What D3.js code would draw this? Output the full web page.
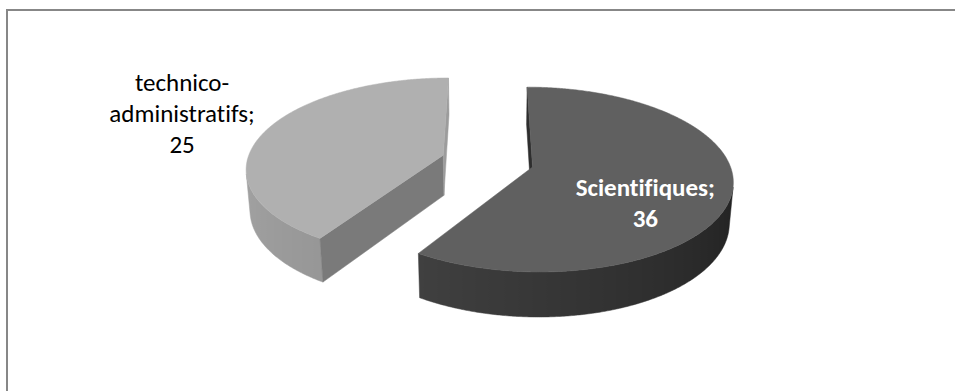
<!DOCTYPE html>
<html>
<head>
<meta charset="utf-8">
<script src="https://cdn.jsdelivr.net/npm/d3@7"></script>
<style>
  html, body { margin: 0; padding: 0; background: #fff; }
  svg { display: block; }
  text { font-variant-ligatures: none; font-feature-settings: "liga" 0, "clig" 0; }
</style>
</head>
<body>
<svg id="chart" width="955" height="391"></svg>
<script>
// Staff split by category
const categories = ["Scientifiques", "technico-administratifs"];
const values = [36, 25];

// Face colours per slice
const topColors = ["#606060", "#b0b0b0"];
const startFaceColors = ["#2e2e2e", "#7a7a7a"];
const endFaceColors = ["#2e2e2e", "#9c9c9c"];
const sideDark = ["#1e1e1e", "#797979"];   // curved wall at 3 o'clock
const sideLight = ["#505050", "#a5a5a5"];  // curved wall at 9 o'clock
const labelColors = ["#ffffff", "#000000"];
const labelWeights = ["bold", "normal"];

const W = 955, H = 391;
const svg = d3.select("#chart");
const defs = svg.append("defs");

// Chart frame
svg.append("rect")
  .attr("x", 7).attr("y", 10)
  .attr("width", W + 20).attr("height", H + 20)
  .attr("fill", "#fff")
  .attr("stroke", "#878787")
  .attr("stroke-width", 2);

// 3D view: pie of unit radius lying in the XZ plane, camera tilted down
const phi = 27 * Math.PI / 180;
const dist = 6.6, focal = 1295;
const cx0 = 487.5, cy0 = 161;
const thickness = 0.235;
const explode = 0.237;
const cam = [0, dist * Math.sin(phi), dist * Math.cos(phi)];

function project(X, Y, Z) {
  const yc = Y * Math.cos(phi) - Z * Math.sin(phi);
  const depth = dist - Y * Math.sin(phi) - Z * Math.cos(phi);
  return [cx0 + focal * X / depth, cy0 - focal * yc / depth];
}
// angle measured clockwise from 12 o'clock (the far side)
const dir = t => [Math.sin(t), -Math.cos(t)];
function rim(c, t, r, Y) {
  const d = dir(t);
  return project(c[0] + r * d[0], Y, c[1] + r * d[1]);
}
// is a vertical face through point p (x,z) with outward normal n turned to the camera?
const seen = (p, n) => n[0] * (cam[0] - p[0]) + n[1] * (cam[2] - p[1]) > 0;

const r = d3.scaleLinear().domain([0, 1]).range([0, 1]);
const pie = d3.pie().sort(null).startAngle(0).endAngle(2 * Math.PI);
const arcs = pie(values);
const line = d3.line();
const step = Math.PI / 360;

const slices = arcs.map((a, i) => {
  const mid = (a.startAngle + a.endAngle) / 2;
  const d = dir(mid);
  return { a, i, mid, c: [explode * d[0], explode * d[1]] };
});

// draw the slice lying further back first
slices.sort((p, q) => p.c[1] - q.c[1]);

const g = svg.append("g");

slices.forEach(s => {
  const { a, i, c } = s;
  const a0 = a.startAngle, a1 = a.endAngle;
  const R = r(1);
  const top = 0, bot = -thickness;
  const sg = g.append("g");
  const ts = d3.range(a0, a1, step).concat([a1]);

  // curved outer wall: visible run of angles, one path with a horizontal gradient
  const shade = d3.scaleLinear()
    .domain([Math.PI / 2, 3 * Math.PI / 2])
    .range([sideDark[i], sideLight[i]])
    .interpolate(d3.interpolateRgb)
    .clamp(true);
  const vis = ts.filter(t => {
    const d = dir(t);
    return seen([c[0] + R * d[0], c[1] + R * d[1]], d);
  });
  if (vis.length > 1) {
    const upper = vis.map(t => rim(c, t, R, top));
    const lower = vis.map(t => rim(c, t, R, bot)).reverse();
    const xs = upper.map(p => p[0]);
    const x1 = d3.min(xs), x2 = d3.max(xs);
    const gid = "wall" + i;
    const grad = defs.append("linearGradient")
      .attr("id", gid)
      .attr("gradientUnits", "userSpaceOnUse")
      .attr("x1", x1).attr("x2", x2).attr("y1", 0).attr("y2", 0);
    const stops = vis.map((t, k) => ({ o: (xs[k] - x1) / (x2 - x1), col: shade(t) }))
      .sort((p, q) => p.o - q.o);
    grad.selectAll("stop").data(stops).join("stop")
      .attr("offset", d => d.o)
      .attr("stop-color", d => d.col);
    sg.append("path")
      .attr("d", line(upper.concat(lower)) + "Z")
      .attr("fill", `url(#${gid})`)
      .attr("stroke", `url(#${gid})`)
      .attr("stroke-width", 0.5);
  }

  // flat cut faces along the two radii
  const radial = (t, n, col) => {
    const dm = dir(t);
    if (!seen([c[0] + 0.5 * dm[0], c[1] + 0.5 * dm[1]], n)) return;
    const pts = [project(c[0], top, c[1]), rim(c, t, R, top), rim(c, t, R, bot), project(c[0], bot, c[1])];
    sg.append("path")
      .attr("d", line(pts) + "Z")
      .attr("fill", col)
      .attr("stroke", col)
      .attr("stroke-width", 0.5);
  };
  radial(a0, dir(a0 - Math.PI / 2), startFaceColors[i]);
  radial(a1, dir(a1 + Math.PI / 2), endFaceColors[i]);

  // top face
  const topPts = [project(c[0], top, c[1])].concat(ts.map(t => rim(c, t, R, top)));
  sg.append("path")
    .attr("d", line(topPts) + "Z")
    .attr("fill", topColors[i])
    .attr("stroke", topColors[i])
    .attr("stroke-width", 0.5);
});

// Data labels: category split after its hyphen, then "; value"
const labelFont = "Carlito, Calibri, Lato, sans-serif";
const labelRadius = [0.575, 1.49];
const lineGap = 31;
const firstOffset = [14, -30];

slices.forEach(s => {
  const { i, c, mid } = s;
  const parts = categories[i].split(/(?<=-)/);
  parts[parts.length - 1] += ";";
  parts.push(String(values[i]));
  const anchor = rim(c, mid, labelRadius[i], 0);
  const t = svg.append("text")
    .attr("text-anchor", "middle")
    .attr("font-family", labelFont)
    .attr("font-size", 25)
    .attr("font-weight", labelWeights[i])
    .attr("fill", labelColors[i]);
  parts.forEach((p, k) => {
    t.append("tspan")
      .attr("x", anchor[0])
      .attr("y", anchor[1] + firstOffset[i] + k * lineGap)
      .text(p);
  });
});
</script>
</body>
</html>
